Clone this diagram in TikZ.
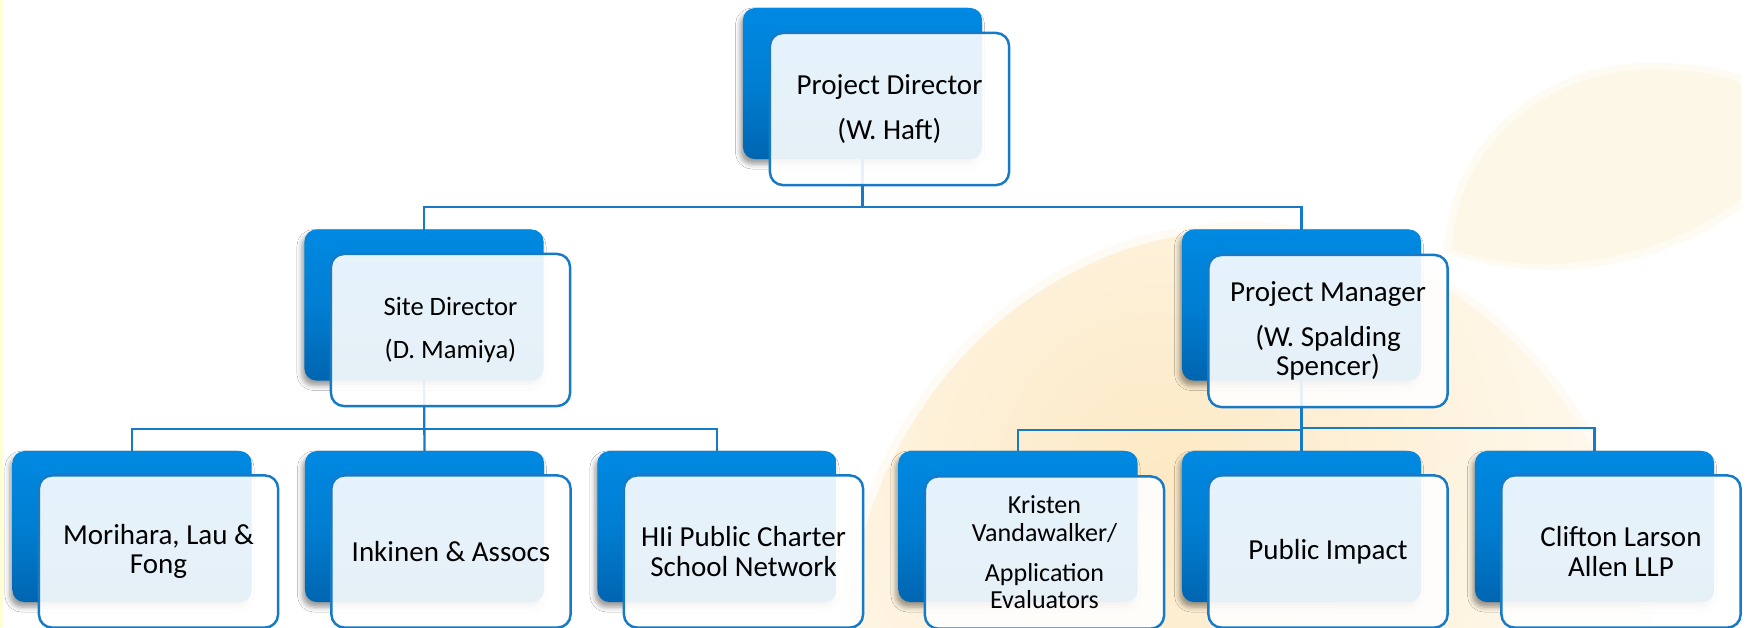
\documentclass[tikz,border=0pt]{standalone}
\usepackage{fontspec}
\setmainfont{Carlito}
\usetikzlibrary{shadows.blur}

\definecolor{linkblue}{RGB}{22,122,198}
\definecolor{boxtop}{RGB}{0,137,226}
\definecolor{boxmid}{RGB}{0,126,210}
\definecolor{boxbot}{RGB}{0,101,176}
\definecolor{fruitbase}{RGB}{254,248,236}
\definecolor{fruitedge}{RGB}{254,251,244}
\definecolor{fruitglow}{RGB}{253,233,196}
\definecolor{leafc}{RGB}{253,247,232}
\definecolor{leafedge}{RGB}{254,251,243}
\definecolor{edgeyellow}{RGB}{255,255,212}

\tikzset{
  backbox/.style={minimum width=2.39cm, minimum height=1.51cm, inner sep=0pt,
    rounded corners=0.12cm, top color=boxtop, bottom color=boxbot, middle color=boxmid,
    blur shadow={shadow xshift=-0.025cm, shadow yshift=-0.05cm,
      shadow blur radius=0.05cm, shadow opacity=40}},
  frontbox/.style={minimum width=2.39cm, minimum height=1.52cm, inner sep=2pt,
    rounded corners=0.13cm, draw=linkblue, line width=0.7pt, fill=white,
    fill opacity=0.9, text opacity=1, align=center,
    font=\fontsize{8.25}{8.4}\selectfont},
  link/.style={draw=linkblue, line width=0.65pt},
}

\begin{document}
\begin{tikzpicture}[x=0.01cm, y=-0.01cm]
  \useasboundingbox (0,0) rectangle (1749,627);
  \clip (0,0) rectangle (1749,627);
  \fill[white] (0,0) rectangle (1749,627);
  \fill[edgeyellow] (0,0) rectangle (3,627);

  % soft orange and leaf in the background
  \begin{scope}
    \clip (3,0) rectangle (1741,627);
    % leaf, with a lighter soft rim
    \fill[leafedge] (1444,252) .. controls (1448,146) and (1536,67) .. (1640,63)
      .. controls (1700,61) and (1732,71) .. (1750,78)
      -- (1750,202) .. controls (1682,258) and (1560,293) .. (1444,252) -- cycle;
    \fill[leafc] (1452,250) .. controls (1455,150) and (1540,75) .. (1640,70)
      .. controls (1700,68) and (1730,78) .. (1745,85)
      -- (1745,195) .. controls (1680,250) and (1560,285) .. (1452,250) -- cycle;
    % orange
    \fill[fruitedge] (1245,665) ellipse [x radius=408, y radius=443];
    \begin{scope}
      \clip (1245,665) ellipse [x radius=400, y radius=435];
      \fill[fruitbase] (1245,665) ellipse [x radius=400, y radius=435];
      \shade[inner color=fruitglow, outer color=fruitbase] (1160,475) circle (440);
    \end{scope}
  \end{scope}

  % bus junctions
  \coordinate (j1) at (862.5,207);
  \coordinate (j2) at (424,429);
  \coordinate (j3a) at (1301.5,430);
  \coordinate (j3b) at (1301.5,428);

  % box centres
  \path
    (862.5,83.5) coordinate (pdc)
    (424,305)    coordinate (sdc)
    (1301.5,305) coordinate (pmc)
    (132,526.5)  coordinate (m1c)
    (424.5,526.5) coordinate (m2c)
    (717,526.5)  coordinate (m3c)
    (1018,526.5) coordinate (r1c)
    (1301.5,526.5) coordinate (r2c)
    (1594.5,526.5) coordinate (r3c);

  % connectors, drawn under the boxes
  \path (pdc) ++(0,75.5) coordinate (pdS);
  \path (sdc) ++(0,-75.5) coordinate (sdN);
  \path (sdc) ++(0,75.5) coordinate (sdS);
  \path (pmc) ++(0,-75.5) coordinate (pmN);
  \path (pmc) ++(0,75.5) coordinate (pmS);
  \path (m1c) ++(0,-75.5) coordinate (m1N);
  \path (m2c) ++(0,-75.5) coordinate (m2N);
  \path (m3c) ++(0,-75.5) coordinate (m3N);
  \path (r1c) ++(0,-75.5) coordinate (r1N);
  \path (r2c) ++(0,-75.5) coordinate (r2N);
  \path (r3c) ++(0,-75.5) coordinate (r3N);
  \draw[link] (pdS) -- (j1);
  \draw[link] (sdN) |- (j1) -| (pmN);
  \draw[link] (sdS) -- (m2N);
  \draw[link] (m1N) |- (j2) -| (m3N);
  \draw[link] (pmS) -- (r2N);
  \draw[link] (r1N) |- (j3a);
  \draw[link] (j3b) -| (r3N);

  % boxes
  \node[backbox] (pdb) at (pdc) {};
  \node[frontbox] (pd) at (889.5,109) {Project Director\\[4.4pt](W. Haft)};

  \node[backbox] (sdb) at (sdc) {};
  \node[frontbox, font=\fontsize{7.55}{7.9}\selectfont] (sd) at (450.5,330)
    {Site Director\\[4.1pt](D. Mamiya)};

  \node[backbox] (pmb) at (pmc) {};
  \node[frontbox] (pm) at (1328,331)
    {Project Manager\\[4.4pt](W. Spalding\\Spencer)};

  \node[backbox] (m1b) at (m1c) {};
  \node[frontbox] (m1) at (158.5,551.5) {Morihara, Lau \&\\Fong};

  \node[backbox] (m2b) at (m2c) {};
  \node[frontbox] (m2) at (451,551.5) {Inkinen \& Assocs};

  \node[backbox] (m3b) at (m3c) {};
  \node[frontbox] (m3) at (743.5,551.5) {HIi Public Charter\\School Network};

  \node[backbox] (r1b) at (r1c) {};
  \node[frontbox, font=\fontsize{7.4}{7.8}\selectfont] (r1) at (1044.5,552.5)
    {Kristen\\Vandawalker/\\[3.6pt]Application\\Evaluators};

  \node[backbox] (r2b) at (r2c) {};
  \node[frontbox] (r2) at (1328,551.5) {Public Impact};

  \node[backbox] (r3b) at (r3c) {};
  \node[frontbox] (r3) at (1621,551.5) {Clifton Larson\\Allen LLP};
\end{tikzpicture}
\end{document}
